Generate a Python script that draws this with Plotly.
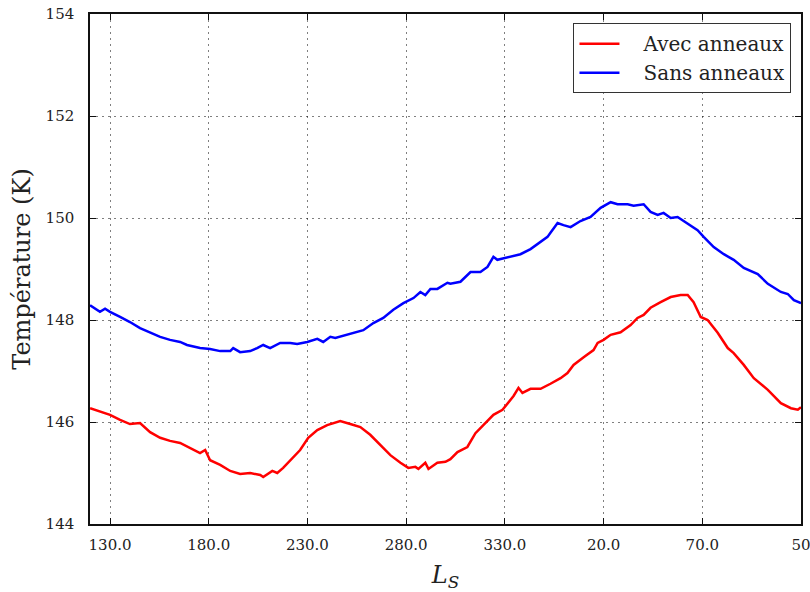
import plotly.graph_objects as go

# Solar longitude (continuous, degrees) and surface temperature (K)
ls_avec = [119.9, 124.9, 130.0, 135.1, 140.1, 145.2, 150.3, 155.4, 160.4, 165.5,
           170.6, 175.6, 178.2, 180.7, 185.8, 190.9, 195.9, 201.0, 206.1, 207.6,
           212.2, 214.7, 217.7, 221.3, 226.3, 230.4, 235.0, 240.0, 246.6, 251.7,
           256.8, 261.8, 266.9, 272.0, 277.1, 281.1, 284.7, 286.2, 289.7, 291.3,
           295.8, 299.9, 302.4, 306.0, 311.0, 315.1, 319.1, 324.2, 328.8, 331.3,
           334.4, 336.9, 338.9, 343.0, 348.1, 353.1, 358.2, 361.7, 364.8, 369.9,
           374.9, 377.0, 380.0, 383.6, 388.6, 393.7, 397.2, 400.3, 403.8, 408.9,
           414.0, 419.0, 422.6, 425.6, 429.2, 432.7, 437.8, 442.9, 445.9, 451.0,
           456.1, 463.2, 469.8, 474.9, 478.4, 480.0]
t_avec = [146.27, 146.20, 146.14, 146.04, 145.96, 145.98, 145.80, 145.69, 145.63, 145.59,
          145.49, 145.39, 145.45, 145.25, 145.16, 145.04, 144.98, 145.00, 144.96, 144.92,
          145.04, 145.00, 145.10, 145.25, 145.45, 145.69, 145.84, 145.94, 146.02, 145.96,
          145.90, 145.75, 145.55, 145.35, 145.20, 145.10, 145.12, 145.08, 145.20, 145.08,
          145.20, 145.22, 145.27, 145.41, 145.51, 145.78, 145.94, 146.14, 146.24, 146.37,
          146.51, 146.67, 146.57, 146.65, 146.65, 146.75, 146.86, 146.96, 147.12, 147.27,
          147.41, 147.55, 147.61, 147.71, 147.76, 147.90, 148.04, 148.10, 148.24, 148.35,
          148.45, 148.49, 148.49, 148.35, 148.06, 148.00, 147.75, 147.45, 147.35, 147.12,
          146.86, 146.63, 146.37, 146.27, 146.24, 146.29]

ls_sans = [119.9, 124.9, 127.5, 130.0, 135.1, 140.1, 145.2, 150.3, 155.4, 160.4,
           165.5, 169.0, 175.6, 180.7, 185.8, 190.9, 192.4, 195.9, 201.0, 204.5,
           207.6, 211.1, 216.2, 221.3, 224.8, 229.9, 235.0, 238.0, 241.6, 244.1,
           251.7, 258.3, 263.4, 268.4, 273.5, 278.6, 283.7, 287.2, 289.7, 292.3,
           295.8, 300.9, 302.4, 307.5, 312.6, 317.6, 321.2, 324.2, 326.2, 332.8,
           337.9, 343.0, 348.1, 351.6, 353.1, 356.7, 359.7, 363.3, 368.3, 373.4,
           378.5, 383.6, 387.1, 392.2, 395.2, 400.3, 403.8, 407.4, 410.4, 414.0,
           417.5, 424.1, 427.6, 430.7, 435.8, 440.9, 445.9, 451.0, 458.1, 463.2,
           469.8, 473.3, 476.4, 480.0]
t_sans = [148.29, 148.16, 148.22, 148.16, 148.06, 147.96, 147.84, 147.75, 147.67, 147.61,
          147.57, 147.51, 147.45, 147.43, 147.39, 147.39, 147.45, 147.37, 147.39, 147.45,
          147.51, 147.45, 147.55, 147.55, 147.53, 147.57, 147.63, 147.57, 147.67, 147.65,
          147.73, 147.80, 147.94, 148.04, 148.20, 148.33, 148.43, 148.55, 148.49, 148.61,
          148.61, 148.73, 148.71, 148.75, 148.94, 148.94, 149.04, 149.24, 149.18, 149.24,
          149.29, 149.39, 149.53, 149.63, 149.71, 149.90, 149.86, 149.82, 149.94, 150.02,
          150.20, 150.31, 150.27, 150.27, 150.24, 150.27, 150.12, 150.06, 150.10, 150.00,
          150.02, 149.86, 149.76, 149.63, 149.43, 149.29, 149.18, 149.02, 148.90, 148.71,
          148.55, 148.51, 148.39, 148.33]

x_tick_vals = [130, 180, 230, 280, 330, 380, 430, 480]
x_tick_text = ["130.0", "180.0", "230.0", "280.0", "330.0", "20.0", "70.0", "50"]
y_tick_vals = [144, 146, 148, 150, 152, 154]

SERIF = "DejaVu Serif"
PAD = "\u00a0\u00a0\u00a0"

fig = go.Figure()
fig.add_trace(go.Scatter(x=ls_avec, y=t_avec, mode="lines", name=PAD + "Avec anneaux",
                         legendgroup="a", line=dict(color="#ff0000", width=2.5)))
fig.add_trace(go.Scatter(x=ls_sans, y=t_sans, mode="lines", name=PAD + "Sans anneaux",
                         legendgroup="b", line=dict(color="#0000ff", width=2.5)))

axis_common = dict(
    automargin=False,
    showline=True, linecolor="#111111", linewidth=1.5, mirror="allticks",
    ticks="inside", ticklen=6, tickcolor="#111111", tickwidth=1,
    showgrid=True, gridcolor="rgba(0,0,0,0.5)", griddash="2px,4px", gridwidth=1,
    zeroline=False,
    ticklabeloverflow="allow",
    tickfont=dict(family=SERIF, size=15, color="#222222"),
)

fig.update_xaxes(range=[119.86, 480], tickvals=x_tick_vals, ticktext=x_tick_text,
                 ticklabelstandoff=6,
                 title=dict(text="<i>L<sub>S</sub></i>", standoff=16,
                            font=dict(family=SERIF, size=24, color="#222222")),
                 **axis_common)
fig.update_yaxes(range=[144, 154], tickvals=y_tick_vals,
                 ticklabelstandoff=11,
                 title=dict(text="Température (K)", standoff=8,
                            font=dict(family=SERIF, size=24, color="#222222")),
                 **axis_common)

fig.update_layout(
    width=810, height=592,
    margin=dict(l=90, r=9, t=14, b=68),
    paper_bgcolor="white", plot_bgcolor="white",
    showlegend=True,
    legend=dict(x=0.9866, y=0.982, xanchor="right", yanchor="top",
                bgcolor="white", bordercolor="#333333", borderwidth=1,
                font=dict(family=SERIF, size=20, color="#222222"),
                tracegroupgap=0, itemwidth=40),
)

fig.write_html("out.html")
